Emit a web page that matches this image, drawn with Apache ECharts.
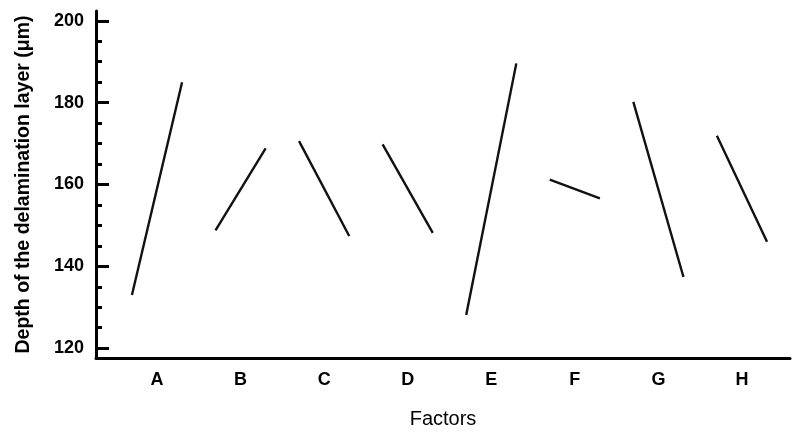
<!DOCTYPE html>
<html>
<head>
<meta charset="utf-8">
<script src="https://cdn.jsdelivr.net/npm/echarts@6/dist/echarts.min.js"></script>
<style>html,body{margin:0;padding:0;background:#fff;}#c{width:792px;height:432px;}</style>
</head>
<body>
<div id="c"></div>
<script>
var factors = ['A', 'B', 'C', 'D', 'E', 'F', 'G', 'H'];
var level1 = [133, 148.8, 170.6, 169.8, 128.1, 161.2, 180.2, 171.9];
var level2 = [185, 168.8, 147.4, 148.2, 189.6, 156.6, 137.4, 146.0];
var majorTicks = [120, 140, 160, 180, 200];
var minorTicks = [125, 130, 135, 145, 150, 155, 165, 170, 175, 185, 190, 195];

var chart = echarts.init(document.getElementById('c'), null, {renderer: 'canvas'});
var FONT = 'Liberation Sans, Arial, sans-serif';
var series = factors.map(function (f, i) {
  return {
    type: 'line',
    name: f,
    showSymbol: false,
    symbol: 'none',
    lineStyle: {color: '#111', width: 2.4},
    data: [[i - 0.3, level1[i]], [i + 0.3, level2[i]]],
    silent: true
  };
});
chart.setOption({
  animation: false,
  backgroundColor: '#fff',
  grid: {left: 96, right: 2, top: 11, bottom: 74, containLabel: false, outerBoundsMode: 'none'},
  xAxis: {
    type: 'value',
    min: -0.73,
    max: 7.575,
    splitLine: {show: false},
    axisLine: {show: true, onZero: false, lineStyle: {color: '#000', width: 3}},
    axisTick: {show: false},
    axisLabel: {
      customValues: factors.map(function (f, i) { return i; }),
      formatter: function (v) { return factors[Math.round(v)]; },
      color: '#000', fontFamily: FONT, fontWeight: 'bold', fontSize: 18, margin: 13
    },
    name: 'Factors',
    nameLocation: 'middle',
    nameGap: 51,
    nameTextStyle: {color: '#000', fontFamily: FONT, fontSize: 20}
  },
  yAxis: [{
    type: 'value',
    min: 117.6,
    max: 202.4,
    position: 'left',
    splitLine: {show: false},
    axisLine: {show: true, onZero: false, lineStyle: {color: '#000', width: 3}},
    axisTick: {show: true, inside: true, length: 13, customValues: majorTicks, lineStyle: {color: '#000', width: 3}},
    axisLabel: {customValues: majorTicks, color: '#000', fontFamily: FONT, fontWeight: 'bold', fontSize: 18, margin: 12},
    name: 'Depth of the delamination layer (\u03bcm)',
    nameLocation: 'middle',
    nameGap: 62,
    nameTextStyle: {color: '#000', fontFamily: FONT, fontWeight: 'bold', fontSize: 19.5}
  }, {
    type: 'value',
    min: 117.6,
    max: 202.4,
    position: 'left',
    offset: 0,
    splitLine: {show: false},
    axisLine: {show: false, onZero: false},
    axisTick: {show: true, inside: true, length: 6, customValues: minorTicks, lineStyle: {color: '#000', width: 3}},
    axisLabel: {show: false}
  }],
  series: series
});
</script>
</body>
</html>
